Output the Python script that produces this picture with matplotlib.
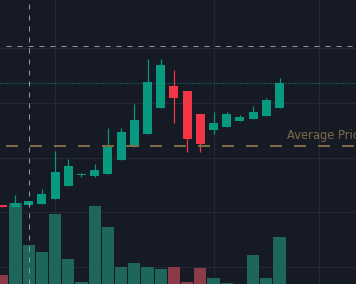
import numpy as np
import matplotlib
matplotlib.use('Agg')
import matplotlib.pyplot as plt
import matplotlib.transforms as mtransforms

# candle data (first candle is cut off at the left edge)
opens  = [101.33, 100.97, 101.33, 101.52, 102.43, 104.80, 106.81, 106.63, 107.00, 109.55, 111.93,
          114.30, 119.05, 123.07, 122.16, 117.95, 115.03, 115.58, 116.68, 117.04, 117.59, 119.05]
highs  = [101.33, 103.16, 102.06, 104.26, 111.20, 109.74, 107.18, 108.82, 115.40, 115.40, 119.78,
          128.00, 128.00, 125.99, 122.16, 117.95, 118.32, 118.32, 117.77, 119.42, 120.88, 124.53]
lows   = [100.97, 100.97, 101.33, 101.52, 102.43, 104.80, 106.45, 106.45, 107.00, 109.55, 111.93,
          114.30, 119.05, 116.31, 111.01, 111.01, 114.30, 115.58, 116.68, 117.04, 117.59, 119.05]
closes = [100.97, 101.70, 102.06, 103.34, 107.36, 108.46, 106.81, 107.73, 112.11, 114.67, 116.86,
          123.80, 126.90, 120.88, 113.39, 112.47, 116.31, 117.95, 117.41, 118.32, 120.51, 123.62]
volumes = [9, 81, 39, 32, 70, 25, 2, 78, 57, 17, 21, 17, 15, 17, 2, 16, 6, 1, 0, 29, 6, 47]

avg_price = 112.11
last_price = closes[-1]
cross_x = 2          # crosshair candle index
cross_y = 130.3      # crosshair price
price_grid = [90, 100, 110, 120, 130]
time_grid = [4, 16, 24]

BG = '#161a25'
GRID = '#242834'
UP = '#089981'
DOWN = '#f23645'
VOL_UP = '#1e655c'
VOL_DOWN = '#8b3a48'
AVG = '#7d6c44'
CROSS = '#9598a1'

plt.rcParams['lines.scale_dashes'] = False
px = 0.72  # one pixel in points at dpi 100

fig = plt.figure(figsize=(3.56, 2.84), dpi=100, facecolor=BG)

# volume pane underneath, price pane on top
ax_vol = fig.add_axes([0, 0, 1, 1], facecolor=BG)
ax = fig.add_axes([0, 0, 1, 1], facecolor='none')

x = np.arange(len(opens))
up = np.array(closes) >= np.array(opens)
xlim = (-0.174, 26.795)
ylim = (86.90, 138.78)
ax.set_xlim(xlim)
ax.set_ylim(ylim)
ax_vol.set_xlim(xlim)
ax_vol.set_ylim(0, max(volumes) * 3.506)

# grid sits below the volume bars
price_tr = mtransforms.blended_transform_factory(ax_vol.transAxes, ax.transData)
for g in price_grid:
    ax_vol.plot([0, 1], [g, g], color=GRID, lw=1.2 * px, transform=price_tr, zorder=0)
for g in time_grid:
    ax_vol.axvline(g, color=GRID, lw=1.2 * px, zorder=0)

vol_colors = [VOL_UP if u else VOL_DOWN for u in up]
ax_vol.bar(x, volumes, width=0.91, color=vol_colors, zorder=1)

# candles
colors = [UP if u else DOWN for u in up]
ax.vlines(x, lows, highs, color=colors, lw=1.2 * px, zorder=3)
body = np.abs(np.array(closes) - np.array(opens))
body = np.maximum(body, 0.2)
bottom = np.minimum(opens, closes)
ax.bar(x, body, bottom=bottom, width=0.68, color=colors, zorder=3)

# last price line (dotted) and average price line
ax.axhline(last_price, color=UP, lw=1 * px, linestyle=(0, (1 * px, 2 * px)), zorder=2)
ax.axhline(avg_price, color=AVG, lw=2 * px, linestyle=(18 * px, (12 * px, 12 * px)), zorder=4)
ax.text(21.57, 113.33, 'Average Price', color=AVG, fontsize=8.3, va='baseline', ha='left',
        fontfamily='DejaVu Sans', clip_on=False, zorder=5)

# crosshair
ax.axhline(cross_y, color=CROSS, lw=1 * px, linestyle=(5 * px, (5 * px, 6 * px)), zorder=6)
ax.axvline(cross_x, color=CROSS, lw=1 * px, linestyle=(0, (5 * px, 6 * px)), zorder=6)

for a in (ax, ax_vol):
    a.set_xticks([])
    a.set_yticks([])
    for s in a.spines.values():
        s.set_visible(False)

fig.savefig('out.png', dpi=100, facecolor=BG)
